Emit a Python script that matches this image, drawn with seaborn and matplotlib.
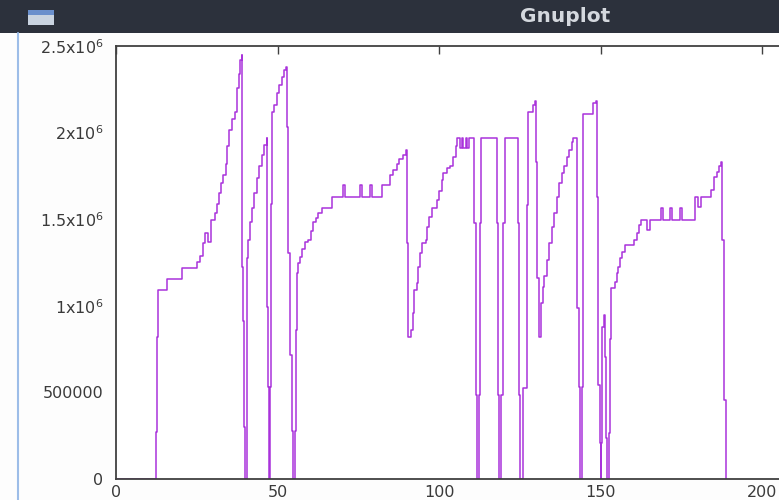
import numpy as np
import pandas as pd
import seaborn as sns
import matplotlib
matplotlib.use("Agg")
import matplotlib.pyplot as plt
from matplotlib.patches import Rectangle
from matplotlib.lines import Line2D

# ---- data (x position, level in millions, step function) ----
x_vals = [0, 12.4, 12.8, 13.1, 15.8, 20.3, 25.0, 26.0, 27.0, 27.6, 28.6, 29.4, 30.7, 31.2, 31.9, 32.5,
          33.2, 34.0, 34.5, 35.1, 35.8, 36.8, 37.6, 38.1, 38.4, 38.9,
          39.1, 39.4, 39.6, 39.9,
          40.5, 40.7, 41.0, 41.5, 42.2, 42.8, 43.6, 44.3, 45.1, 45.9, 46.6,
          46.9, 47.1, 47.4,
          47.7, 47.9, 48.3, 48.9, 49.7, 50.6, 51.3, 52.0, 52.5,
          52.8, 53.3, 53.9, 54.4, 54.9,
          55.3, 55.6, 55.9, 56.4, 57.0, 57.7, 58.5, 59.5, 60.3, 61.1, 61.8, 62.6, 63.7, 67.0,
          70.4, 70.9, 75.5, 76.1, 78.6, 79.2, 82.3, 84.8, 85.9, 86.9, 87.7, 88.9, 89.7,
          90.0, 90.5,
          91.2, 91.9, 92.4, 93.1, 93.6, 94.1, 94.8, 95.9, 96.4, 97.0, 97.7, 99.3, 100.1, 100.8,
          101.3, 102.4, 103.4, 104.2, 105.2, 105.7,
          106.5, 107.0, 107.5, 108.3, 108.8, 109.4,
          110.8, 111.5, 111.9,
          112.4, 112.7, 113.0,
          117.9, 118.4, 118.7,
          119.2, 119.8, 120.4,
          124.4, 124.8, 125.1,
          125.9, 127.2, 127.7, 129.0, 129.7,
          130.0, 130.4, 131.0,
          131.5, 132.1, 132.6, 133.3, 134.1, 134.9, 135.6, 136.4, 137.2, 138.0, 138.7, 139.5,
          140.3, 141.1, 141.6,
          142.8, 143.2, 143.7,
          144.2, 144.5, 144.7, 147.8, 148.5,
          148.8, 149.3, 149.8, 150.0,
          150.3, 150.6, 151.2, 151.5, 151.8, 152.1, 152.5, 152.8, 153.4,
          154.5, 155.0, 155.5, 156.0, 156.8, 157.6, 160.4, 161.2, 162.0, 162.5, 164.5, 165.3,
          168.6, 169.2, 171.5, 172.2, 174.6, 175.3, 179.3, 180.1, 181.1, 184.2, 185.1, 186.0,
          186.7, 187.4,
          187.7, 188.2, 188.8]

level_millions = [0, 0.27, 0.82, 1.09, 1.155, 1.22, 1.255, 1.29, 1.36, 1.42, 1.37, 1.495, 1.535, 1.59,
                  1.65, 1.71, 1.755, 1.82, 1.92, 2.015, 2.08, 2.12, 2.255, 2.34, 2.42, 2.45,
                  1.225, 0.91, 0.30, 0,
                  0.92, 1.275, 1.38, 1.485, 1.565, 1.65, 1.74, 1.81, 1.87, 1.93, 1.97,
                  0.995, 0.53, 0,
                  0.53, 1.59, 2.12, 2.16, 2.23, 2.275, 2.32, 2.36, 2.38,
                  2.03, 1.305, 0.716, 0.28, 0,
                  0.28, 0.86, 1.19, 1.245, 1.28, 1.33, 1.37, 1.38, 1.43, 1.485, 1.505, 1.535, 1.565, 1.63,
                  1.70, 1.63, 1.70, 1.63, 1.70, 1.63, 1.70, 1.755, 1.785, 1.82, 1.85, 1.87, 1.90,
                  1.36, 0.82,
                  0.86, 0.957, 1.09, 1.13, 1.225, 1.305, 1.36, 1.38, 1.455, 1.515, 1.565, 1.61, 1.66,
                  1.725, 1.765, 1.795, 1.81, 1.86, 1.92, 1.967,
                  1.91, 1.967, 1.91, 1.967, 1.91, 1.967,
                  1.476, 0.485, 0,
                  0.485, 1.476, 1.967,
                  1.476, 0.485, 0,
                  0.485, 1.476, 1.967,
                  1.476, 0.485, 0,
                  0.525, 1.58, 2.12, 2.16, 2.18,
                  1.83, 1.16, 0.82,
                  1.015, 1.11, 1.17, 1.265, 1.36, 1.455, 1.535, 1.63, 1.707, 1.765, 1.81, 1.86,
                  1.90, 1.947, 1.967,
                  0.987, 0.533, 0,
                  0.533, 1.58, 2.11, 2.17, 2.18,
                  1.63, 0.54, 0.21, 0,
                  0.21, 0.88, 0.947, 0.706, 0.237, 0, 0.265, 0.81, 1.10,
                  1.14, 1.19, 1.225, 1.275, 1.31, 1.35, 1.38, 1.42, 1.465, 1.495, 1.44, 1.495,
                  1.563, 1.495, 1.563, 1.495, 1.563, 1.495, 1.63, 1.572, 1.63, 1.67, 1.745, 1.775,
                  1.81, 1.83,
                  1.38, 0.456, 0]

x_ticks = [0, 50, 100, 150, 200]
x_tick_labels = ["0", "50", "100", "150", "200"]
y_ticks = [0, 500000, 1000000, 1500000, 2000000, 2500000]
y_tick_labels = ["0", "500000", r"1x10$^{6}$", r"1.5x10$^{6}$", r"2x10$^{6}$", r"2.5x10$^{6}$"]

df = pd.DataFrame({"x": x_vals, "y": np.array(level_millions) * 1e6})

sns.set_theme(style="white")
plt.rcParams["font.family"] = ["DejaVu Sans"]
plt.rcParams["mathtext.fontset"] = "dejavusans"

W, H = 779, 500
fig = plt.figure(figsize=(W / 100, H / 100), dpi=100, facecolor="#fdfdfd")

# window title bar
fig.patches.append(Rectangle((0, 1 - 33 / H), 1, 33 / H, transform=fig.transFigure,
                             facecolor="#2c313c", edgecolor="none", zorder=0))
fig.patches.append(Rectangle((28 / W, 1 - 25 / H), 26 / W, 15 / H, transform=fig.transFigure,
                             facecolor="#c9d3e0", edgecolor="none", zorder=1))
fig.patches.append(Rectangle((28 / W, 1 - 15 / H), 26 / W, 5 / H, transform=fig.transFigure,
                             facecolor="#6a8fcc", edgecolor="none", zorder=2))
fig.text(565 / W, 1 - 17 / H, "Gnuplot", ha="center", va="center", color="#d4d8de",
         fontsize=14.5, fontweight="bold")
fig.lines.append(Line2D([17.5 / W, 17.5 / W], [0, 1 - 33 / H], transform=fig.transFigure,
                        color="#9dbde8", lw=1.5))

left_px, right_units, px_per_unit = 116, 220, 3.23
ax = fig.add_axes([left_px / W, 21 / H, right_units * px_per_unit / W, 433 / H])
ax.set_facecolor("#ffffff")

sns.lineplot(data=df, x="x", y="y", ax=ax, drawstyle="steps-post", estimator=None, sort=False,
             color="#9400d3", linewidth=1.1, alpha=0.8)

ax.set_xlim(0, right_units)
ax.set_ylim(0, 2.5e6)
ax.set_xticks(x_ticks)
ax.set_xticklabels(x_tick_labels)
ax.set_yticks(y_ticks)
ax.set_yticklabels(y_tick_labels)
ax.set_xlabel("")
ax.set_ylabel("")
for s in ax.spines.values():
    s.set_color("#404040")
    s.set_linewidth(1.3)
ax.tick_params(axis="both", direction="in", length=6, width=1.0, color="#404040",
               labelcolor="#3a3a3a", labelsize=11.5, top=True, right=True)
ax.tick_params(axis="y", pad=9)
ax.tick_params(axis="x", pad=4)

fig.savefig("out.png", dpi=100, facecolor=fig.get_facecolor())
